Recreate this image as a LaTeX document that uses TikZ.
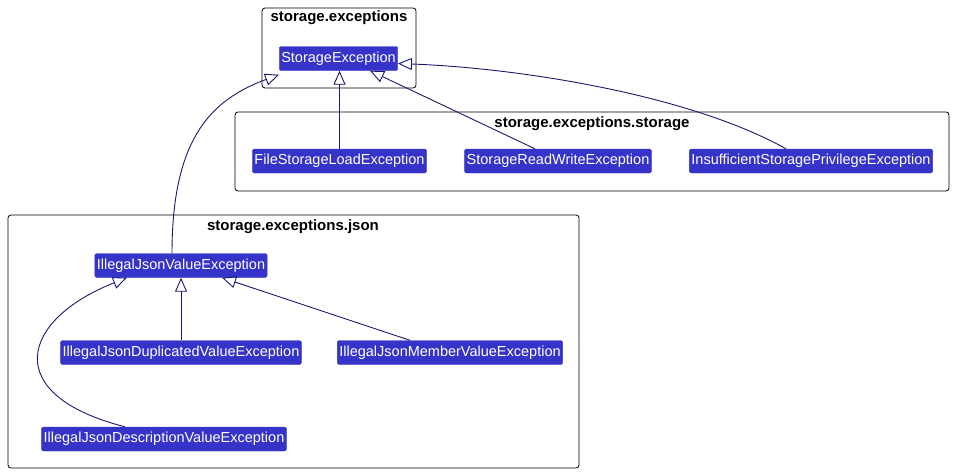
\documentclass[tikz,border=0pt]{standalone}
\usepackage{fontspec}
\setmainfont{Liberation Sans}
\usetikzlibrary{arrows.meta}
\definecolor{clsfill}{RGB}{54,52,200}
\definecolor{edgecol}{RGB}{25,25,112}
\tikzset{
  cls/.style={draw=clsfill, fill=clsfill, text=white, rounded corners=1.5pt, minimum height=24pt, inner xsep=2pt, font=\fontsize{14.5}{17}\selectfont},
  pkg/.style={draw=black, rounded corners=3pt, line width=0.8pt},
  pkgtitle/.style={font=\bfseries\fontsize{15}{18}\selectfont},
  inherit/.style={draw=edgecol, line width=0.9pt, -{Triangle[open, length=14pt, width=12pt]}}
}
\begin{document}
\begin{tikzpicture}[x=1pt, y=-1pt]
\useasboundingbox (0,0) rectangle (955,474);
\node[pkg, minimum width=154pt, minimum height=80pt] (pkgexc) at (339,48) {};
\node[pkg, minimum width=714pt, minimum height=79pt] (pkgstorage) at (592,151.5) {};
\node[pkg, minimum width=571pt, minimum height=253pt] (pkgjson) at (293.5,341.5) {};
\node[pkgtitle] (titleexc) at (339,18) {storage.exceptions};
\node[pkgtitle] (titlestorage) at (592,124) {storage.exceptions.storage};
\node[pkgtitle] (titlejson) at (293,227) {storage.exceptions.json};

\node[cls] (storageexc) at (338.5,58.5) {StorageException};
\node[cls] (fileload) at (339.5,161) {FileStorageLoadException};
\node[cls] (readwrite) at (558,161) {StorageReadWriteException};
\node[cls] (privilege) at (811,161) {InsufficientStoragePrivilegeException};
\node[cls] (jsonvalue) at (181,265.5) {IllegalJsonValueException};
\node[cls] (jsondup) at (181,352.5) {IllegalJsonDuplicatedValueException};
\node[cls] (jsonmember) at (450,352.5) {IllegalJsonMemberValueException};
\node[cls] (jsondesc) at (164,439) {IllegalJsonDescriptionValueException};

\draw[inherit] (fileload.north) -- (storageexc.south -| fileload.north);
\draw[inherit] ([xshift=-23pt]readwrite.north) -- ([xshift=31.5pt]storageexc.south);
\draw[inherit] ([xshift=-25pt]privilege.north) .. controls (690,95) and (520,68) .. ([yshift=-5pt]storageexc.east);
\draw[inherit] ([xshift=-9pt]jsonvalue.north) .. controls (172,140) and (210,100) .. ([yshift=-4pt]storageexc.south west);
\draw[inherit] (jsondup.north) -- (jsonvalue.south);
\draw[inherit] ([xshift=-40pt]jsonmember.north) -- ([xshift=41pt]jsonvalue.south);
\draw[inherit] ([xshift=-39pt]jsondesc.north) .. controls (0,395) and (20,320) .. ([xshift=-54pt]jsonvalue.south);
\end{tikzpicture}
\end{document}
